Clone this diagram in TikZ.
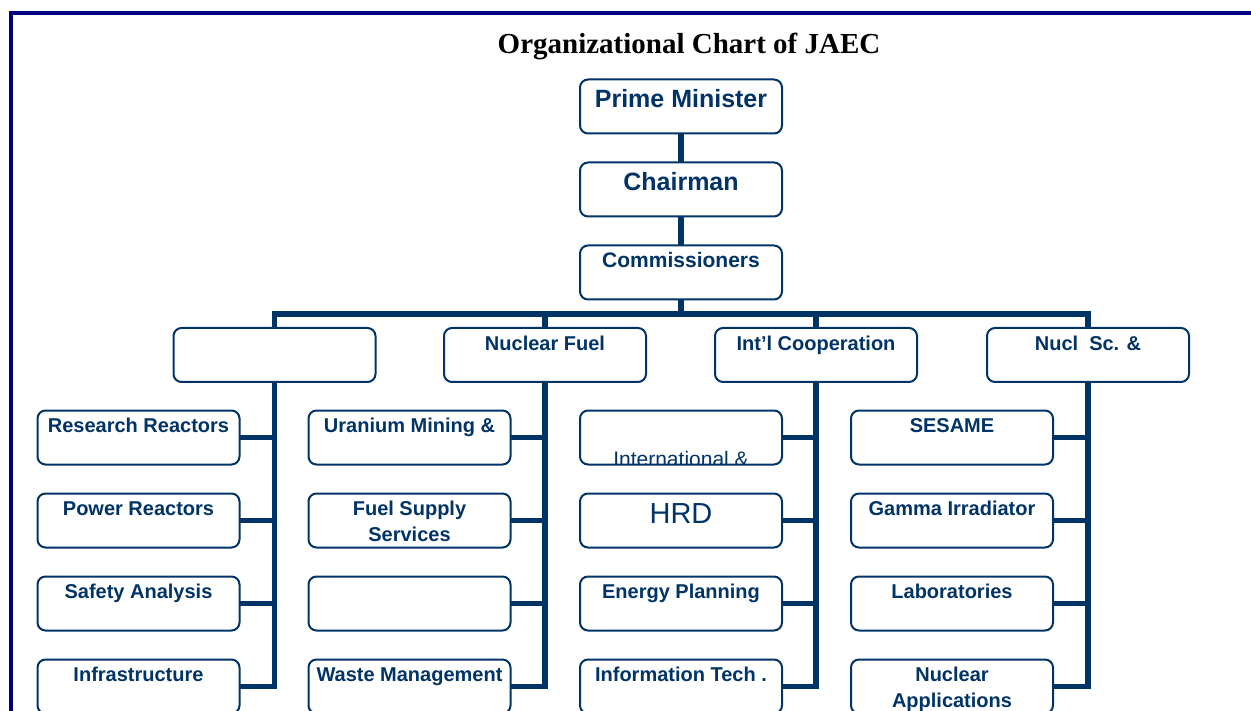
\documentclass[tikz,border=0pt]{standalone}
\usepackage{fontspec}
\setmainfont{Liberation Serif}
\newfontfamily\orgsans{Liberation Sans}
\usetikzlibrary{backgrounds}
\definecolor{orgblue}{RGB}{0,51,102}
\definecolor{framenavy}{RGB}{0,0,128}
\newcommand\twolines[2]{\begin{tabular}[t]{@{}c@{}}#1\\#2\end{tabular}}
\begin{document}
\begin{tikzpicture}[x=1pt,y=-1pt,
  box/.style={draw=orgblue, line width=2pt, rounded corners=8pt, fill=white,
    minimum width=202pt, minimum height=54pt, inner sep=0pt, outer sep=0pt},
  conn/.style={draw=orgblue, line width=5.5pt},
  lbl/.style={text=orgblue, anchor=base, inner sep=0pt,
    font=\orgsans\bfseries\fontsize{20}{26}\selectfont},
  biglbl/.style={lbl, font=\orgsans\bfseries\fontsize{25}{30}\selectfont},
  midlbl/.style={lbl, font=\orgsans\bfseries\fontsize{21}{26}\selectfont},
  plainlbl/.style={lbl, font=\orgsans\fontsize{#1}{#1}\selectfont}]
\useasboundingbox (0,0) rectangle (1251,711);
\clip (0,0) rectangle (1251,711);

% outer frame
\draw[framenavy, line width=4.3pt] (11,13) rectangle (1300,760);

% title
\node[anchor=base, inner sep=0pt, font=\bfseries\fontsize{29}{34}\selectfont] (title)
  at (689,53.5) {Organizational Chart of JAEC};

% top of the hierarchy
\node[box] (pm) at (681,106.5) {};
\node[box] (chair) at (681,189.5) {};
\node[box] (comm) at (681,272.5) {};
\node[biglbl] (pm-t) at ([yshift=-28pt]pm.north) {Prime Minister};
\node[biglbl] (chair-t) at ([yshift=-28pt]chair.north) {Chairman};
\node[midlbl] (comm-t) at ([yshift=-22.5pt]comm.north) {Commissioners};

% departments
\node[box] (d1) at (274.5,355) {};
\node[box] (d2) at (545,355) {};
\node[box] (d3) at (816,355) {};
\node[box] (d4) at (1088,355) {};
\node[lbl] (d2-t) at ([yshift=-22.5pt]d2.north) {Nuclear Fuel};
\node[lbl] (d3-t) at ([yshift=-22.5pt]d3.north) {Int’l Cooperation};
\node[lbl] (d4-t) at ([yshift=-22.5pt]d4.north) {Nucl\ \ Sc. \&};

% units, column 1
\node[box] (a1) at (138.5,437.5) {};
\node[box] (a2) at (138.5,520.5) {};
\node[box] (a3) at (138.5,603.5) {};
\node[box] (a4) at (138.5,686.5) {};
\node[lbl] (a1-t) at ([yshift=-21.5pt]a1.north) {Research Reactors};
\node[lbl] (a2-t) at ([yshift=-21.5pt]a2.north) {Power Reactors};
\node[lbl] (a3-t) at ([yshift=-21.5pt]a3.north) {Safety Analysis};
\node[lbl] (a4-t) at ([yshift=-21.5pt]a4.north) {Infrastructure};

% units, column 2
\node[box] (b1) at (409.5,437.5) {};
\node[box] (b2) at (409.5,520.5) {};
\node[box] (b3) at (409.5,603.5) {};
\node[box] (b4) at (409.5,686.5) {};
\node[lbl] (b1-t) at ([yshift=-21.5pt]b1.north) {Uranium Mining \&};
\node[lbl] (b2-t) at ([yshift=-21.5pt]b2.north) {\twolines{Fuel Supply}{Services}};
\node[lbl] (b4-t) at ([yshift=-21.5pt]b4.north) {Waste Management};

% units, column 3
\node[box] (c1) at (681,437.5) {};
\node[box] (c2) at (681,520.5) {};
\node[box] (c3) at (681,603.5) {};
\node[box] (c4) at (681,686.5) {};
\begin{scope}
  \clip[rounded corners=7pt] ([shift={(1pt,1pt)}]c1.south west)
    rectangle ([shift={(-1pt,-1pt)}]c1.north east);
  \node[plainlbl=21] (c1-t) at ([yshift=-56pt]c1.north) {International \&};
\end{scope}
\node[plainlbl=29] (c2-t) at ([yshift=-29.5pt]c2.north) {HRD};
\node[lbl] (c3-t) at ([yshift=-21.5pt]c3.north) {Energy Planning};
\node[lbl] (c4-t) at ([yshift=-21.5pt]c4.north) {Information Tech .};

% units, column 4
\node[box] (e1) at (952,437.5) {};
\node[box] (e2) at (952,520.5) {};
\node[box] (e3) at (952,603.5) {};
\node[box] (e4) at (952,686.5) {};
\node[lbl] (e1-t) at ([yshift=-21.5pt]e1.north) {SESAME};
\node[lbl] (e2-t) at ([yshift=-21.5pt]e2.north) {Gamma Irradiator};
\node[lbl] (e3-t) at ([yshift=-21.5pt]e3.north) {Laboratories};
\node[lbl] (e4-t) at ([yshift=-21.5pt]e4.north) {\twolines{Nuclear}{Applications}};

% connectors
\begin{pgfonlayer}{background}
  \draw[conn] (pm.south) -- (chair.north);
  \draw[conn] (chair.south) -- (comm.north);
  \coordinate (bus) at (681,314);
  \draw[conn] (comm.south) -- (bus);
  \draw[conn] (d1.north) |- (bus) -| (d4.north);
  \draw[conn] (d2.north) -- (d2.north |- bus);
  \draw[conn] (d3.north) -- (d3.north |- bus);
  \foreach \dep/\col in {d1/a, d2/b, d3/c, d4/e} {
    \draw[conn] (\dep.south) |- (\col4.east);
    \foreach \r in {1,2,3}
      \draw[conn] (\col\r.east) -- (\col\r.east -| \dep.south);
  }
\end{pgfonlayer}
\end{tikzpicture}
\end{document}
